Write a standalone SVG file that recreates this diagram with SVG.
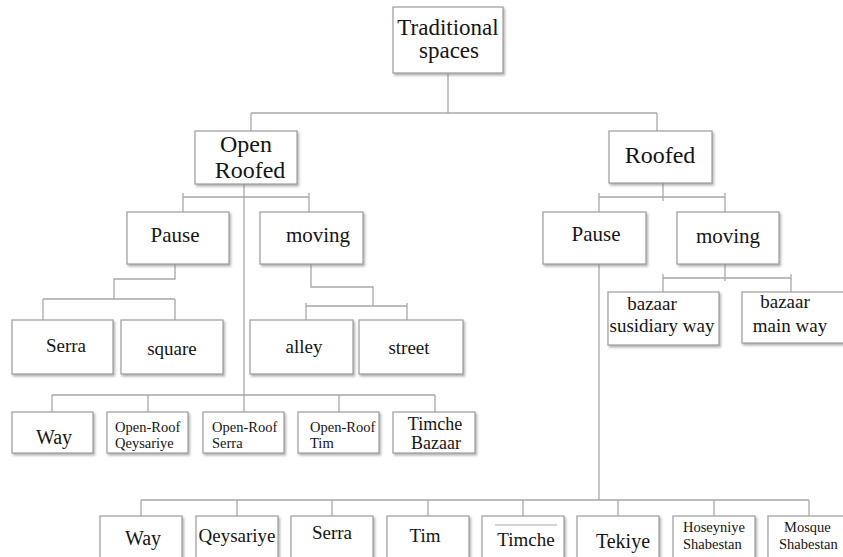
<svg xmlns="http://www.w3.org/2000/svg" width="843" height="557" viewBox="0 0 843 557">
<defs>
<filter id="sh" x="-10%" y="-10%" width="130%" height="140%">
<feDropShadow dx="1.5" dy="2" stdDeviation="1" flood-color="#777" flood-opacity="0.55"/>
</filter>
</defs>
<style>
.b{fill:#fff;stroke:#9c9c9c;stroke-width:1.2;filter:url(#sh)}
.c{fill:none;stroke:#a8a8a8;stroke-width:1.3}
text{font-family:"Liberation Serif","Times New Roman",serif;fill:#151515;text-anchor:middle}
.l{text-anchor:start}
.t24{font-size:24px}.t23{font-size:23px}.t21{font-size:21px}.t20{font-size:20px}.t19{font-size:19px}.t18{font-size:18px}.t15{font-size:14.5px}
</style>
<rect width="843" height="557" fill="#fff"/>
<g id="connectors" class="c">
<path d="M448,73V113M251,113H657M251,113V131M657,113V131"/>
<path d="M244,184V395M183,197H309M183,193V212M309,193V212"/>
<path d="M175,264V279H114V299M43,299H175M43,299V320M175,299V320"/>
<path d="M311,264V287H373V306M306,306H407M306,303V320M407,303V320"/>
<path d="M52,395H435M52,395V412M148,395V412M244,395V412M339,395V412M435,395V412"/>
<path d="M663,183V201M599,197H725M599,193V212M725,193V212"/>
<path d="M725,264V281M663,278H791M663,274V292M791,274V292"/>
<path d="M599,264V500M141,500H809M141,500V516M237,500V516M332,500V516M428,500V516M523,500V516M618,500V516M714,500V516M809,500V516"/>
</g>
<g id="root"><rect class="b" x="393" y="7" width="110" height="66"/><text class="t23" x="448" y="35">Traditional</text><text class="t23" x="449" y="58">spaces</text></g>
<g id="openroofed"><rect class="b" x="195" y="131" width="102" height="53"/><text class="t24" x="246" y="152">Open</text><text class="t24" x="250" y="178">Roofed</text></g>
<g id="roofed"><rect class="b" x="609" y="131" width="103" height="52"/><text class="t24" x="660" y="163">Roofed</text></g>
<g id="pauseL"><rect class="b" x="127" y="212" width="102" height="52"/><text class="t21" x="175" y="242">Pause</text></g>
<g id="movingL"><rect class="b" x="260" y="212" width="103" height="52"/><text class="t21" x="318" y="242">moving</text></g>
<g id="serra"><rect class="b" x="12" y="320" width="101" height="54"/><text class="t19" x="66" y="352">Serra</text></g>
<g id="square"><rect class="b" x="121" y="320" width="102" height="54"/><text class="t19" x="172" y="355">square</text></g>
<g id="alley"><rect class="b" x="250" y="320" width="103" height="54"/><text class="t19" x="304" y="353">alley</text></g>
<g id="street"><rect class="b" x="359" y="320" width="104" height="54"/><text class="t19" x="409" y="354">street</text></g>
<g id="pauseR"><rect class="b" x="543" y="212" width="103" height="52"/><text class="t21" x="596" y="241">Pause</text></g>
<g id="movingR"><rect class="b" x="677" y="212" width="102" height="52"/><text class="t21" x="728" y="243">moving</text></g>
<g id="bazaarSub"><rect class="b" x="608" y="292" width="111" height="53"/><text class="t19" x="652" y="310">bazaar</text><text class="t19" x="662" y="332">susidiary way</text></g>
<g id="bazaarMain"><rect class="b" x="742" y="292" width="110" height="51"/><text class="t19" x="785" y="308">bazaar</text><text class="t19" x="790" y="332">main way</text></g>
<g id="way1"><rect class="b" x="12" y="412" width="81" height="41"/><text class="t20" x="54" y="444">Way</text></g>
<g id="orQeysariye"><rect class="b" x="107" y="412" width="81" height="41"/><text class="t15 l" x="115" y="432">Open-Roof</text><text class="t15 l" x="115" y="448">Qeysariye</text></g>
<g id="orSerra"><rect class="b" x="203" y="412" width="81" height="41"/><text class="t15 l" x="212" y="432">Open-Roof</text><text class="t15 l" x="212" y="448">Serra</text></g>
<g id="orTim"><rect class="b" x="298" y="412" width="81" height="41"/><text class="t15 l" x="310" y="432">Open-Roof</text><text class="t15 l" x="310" y="448">Tim</text></g>
<g id="timcheBazaar"><rect class="b" x="393" y="412" width="82" height="41"/><text class="t18" x="435" y="430">Timche</text><text class="t18" x="436" y="449">Bazaar</text></g>
<g id="way2"><rect class="b" x="100" y="516" width="82" height="50"/><text class="t20" x="143" y="545">Way</text></g>
<g id="qeysariye"><rect class="b" x="196" y="516" width="82" height="50"/><text class="t19" x="237" y="542">Qeysariye</text></g>
<g id="serra2"><rect class="b" x="291" y="516" width="82" height="50"/><text class="t19" x="332" y="539">Serra</text></g>
<g id="tim"><rect class="b" x="387" y="516" width="82" height="50"/><text class="t19" x="425" y="542">Tim</text></g>
<g id="timche"><rect class="b" x="482" y="516" width="82" height="50"/><line x1="495" y1="525" x2="557" y2="525" stroke="#aaa" stroke-width="1"/><text class="t19" x="526" y="546">Timche</text></g>
<g id="tekiye"><rect class="b" x="577" y="516" width="82" height="50"/><text class="t20" x="623" y="548">Tekiye</text></g>
<g id="hoseyniye"><rect class="b" x="673" y="516" width="82" height="50"/><text class="t15 l" x="683" y="532">Hoseyniye</text><text class="t15 l" x="683" y="549">Shabestan</text></g>
<g id="mosque"><rect class="b" x="768" y="516" width="82" height="50"/><text class="t15 l" x="784" y="532">Mosque</text><text class="t15 l" x="779" y="549">Shabestan</text></g>
</svg>
